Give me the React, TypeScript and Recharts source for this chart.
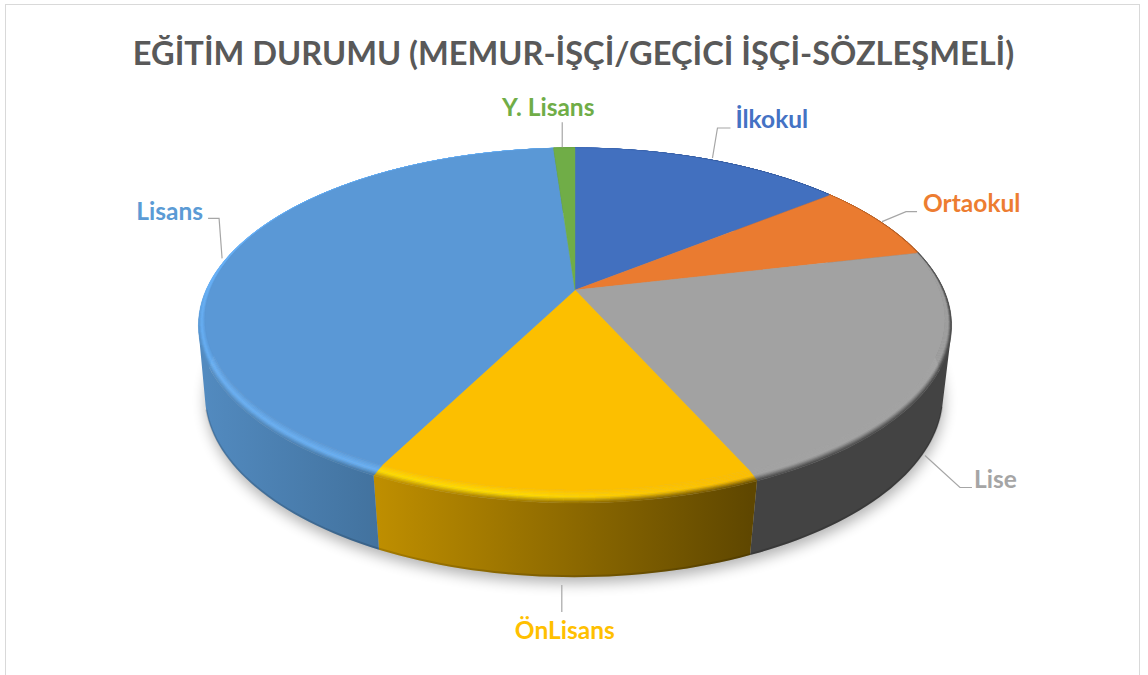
import React from 'react';
import { PieChart, Pie } from 'recharts';

/* ============================
   Data
============================ */

const CATEGORIES = ['İlkokul', 'Ortaokul', 'Lise', 'ÖnLisans', 'Lisans', 'Y. Lisans'];
const SHARES = [14.1, 7.2, 22.1, 14.0, 41.5, 1.1];

const COLORS = ['#4270BF', '#EA7B30', '#A2A2A2', '#FCBF00', '#5A98D6', '#70AD47'];
const LABEL_COLORS = ['#4472C4', '#ED7D31', '#A5A5A5', '#FFC000', '#5B9BD5', '#70AD47'];
const WALL_LEFT = ['#2F4F88', '#A35622', '#434343', '#BE8E00', '#528ABF', '#4D7731'];
const WALL_RIGHT = ['#2F4F88', '#A35622', '#434343', '#5F4700', '#42729E', '#4D7731'];
const HIGHLIGHTS = ['#4472C4', '#ED7D31', '#A5A5A5', '#FFDD00', '#69B1F6', '#70AD47'];

const TITLE = 'EĞİTİM DURUMU (MEMUR-İŞÇİ/GEÇİCİ İŞÇİ-SÖZLEŞMELİ)';
const FONT = 'Lato, sans-serif';

const chartData = CATEGORIES.map((name, i) => ({ name, value: SHARES[i], fill: COLORS[i] }));

/* ============================
   Tilted disc projection
============================ */

type Lens = { cx: number; cy: number; a: number; b: number; k: number };
type Pt = { x: number; y: number };

// flat top face, outer bevel edge, bottom of the wall
const lensFor = (cx: number, cy: number, r: number) => {
    const flat: Lens = { cx, cy, a: r, b: r * 0.4553, k: 0.17 };
    const rim: Lens = { cx, cy, a: r * 1.012, b: r * 0.4674, k: 0.2 };
    const foot: Lens = { cx: cx - 1, cy: cy + 71, a: r * 0.9945, b: r * 0.4827, k: 0.186 };
    return { flat, rim, foot };
};

const project = (l: Lens, deg: number): Pt => {
    const rad = (deg * Math.PI) / 180;
    const x = Math.cos(rad);
    const y = -Math.sin(rad);
    const w = 1 - l.k * y;
    return { x: l.cx + (l.a * x) / w, y: l.cy + (l.b * y) / w };
};

const sweep = (start: number, end: number, step = 1.5) => {
    const n = Math.max(1, Math.ceil(Math.abs(end - start) / step));
    return Array.from({ length: n + 1 }, (_, i) => start + ((end - start) * i) / n);
};

const toPath = (pts: Pt[]) =>
    pts.map((p, i) => `${i ? 'L' : 'M'}${p.x.toFixed(2)} ${p.y.toFixed(2)}`).join('') + 'Z';

// same winding for every quad, so one nonzero path fills their union
const windQuad = (pts: Pt[]) => {
    const area = pts.reduce((sum, p, i) => {
        const q = pts[(i + 1) % pts.length];
        return sum + p.x * q.y - q.x * p.y;
    }, 0);
    return area < 0 ? [...pts].reverse() : pts;
};

const hex = (c: string) => [1, 3, 5].map(i => parseInt(c.slice(i, i + 2), 16));
const mix = (c1: string, c2: string, t: number) => {
    const a = hex(c1);
    const b = hex(c2);
    const v = a.map((ch, i) => Math.round(ch + (b[i] - ch) * t));
    return '#' + v.map(n => n.toString(16).padStart(2, '0')).join('');
};
const clamp = (v: number) => Math.min(1, Math.max(0, v));
const sinOf = (deg: number) => Math.sin((deg * Math.PI) / 180);

// x range of the part of a slice's wall that faces the viewer
const frontRange = (foot: Lens, start: number, end: number) => {
    const front = sweep(start, end)
        .filter(d => sinOf(d) < -0.1)
        .map(d => project(foot, d).x);
    if (!front.length) return [0, 1];
    return [Math.min(...front), Math.max(...front)];
};

/* ============================
   Pie shapes
============================ */

const ShadowShape = (props: any) => {
    const { foot } = lensFor(props.cx, props.cy, props.outerRadius);
    const pts = sweep(0, 360, 3).map(d => project(foot, d));
    return (
        <g>
            <defs>
                <filter id="discShadow" x="-10%" y="-10%" width="120%" height="125%">
                    <feGaussianBlur stdDeviation="7" />
                </filter>
            </defs>
            <path d={toPath(pts)} fill="#000" opacity={0.3} filter="url(#discShadow)" transform="translate(1 6)" />
        </g>
    );
};

const WallShape = (props: any) => {
    const { cx, cy, outerRadius, startAngle, endAngle, index } = props;
    const { rim, foot } = lensFor(cx, cy, outerRadius);
    const angles = sweep(startAngle, endAngle);
    const [x0, x1] = frontRange(foot, startAngle, endAngle);
    const edge = angles.filter(d => sinOf(d) < -0.25).map(d => project(foot, d));
    const body = angles
        .slice(1)
        .map((d, j) =>
            toPath(windQuad([project(rim, angles[j]), project(rim, d), project(foot, d), project(foot, angles[j])]))
        )
        .join('');
    return (
        <g>
            <defs>
                <linearGradient id={`wall-${index}`} gradientUnits="userSpaceOnUse" x1={x0} x2={x1} y1={0} y2={0}>
                    <stop offset="0" stopColor={WALL_LEFT[index]} />
                    <stop offset="1" stopColor={WALL_RIGHT[index]} />
                </linearGradient>
            </defs>
            <path d={body} fill={`url(#wall-${index})`} />
            <polyline
                points={edge.map(p => `${p.x},${p.y - 1}`).join(' ')}
                fill="none"
                stroke="#000"
                strokeOpacity={0.14}
                strokeWidth={2}
            />
        </g>
    );
};

const BEVEL_STEPS = 9;
const PEAK = 0.55;

const lerpPoint = (a: Pt, b: Pt, t: number) => ({
    x: a.x + (b.x - a.x) * t,
    y: a.y + (b.y - a.y) * t,
});

const BevelShape = (props: any) => {
    const { cx, cy, outerRadius, startAngle, endAngle, index, fill } = props;
    const { flat, rim, foot } = lensFor(cx, cy, outerRadius);
    const angles = sweep(startAngle, endAngle, 2);
    const [x0, x1] = frontRange(foot, startAngle, endAngle);
    const quads: React.ReactNode[] = [];
    angles.slice(1).forEach((d, j) => {
        const prev = angles[j];
        const glow = clamp((720 - project(rim, d).x) / 220);
        const high = mix(fill, HIGHLIGHTS[index], glow);
        const wall = mix(WALL_LEFT[index], WALL_RIGHT[index], clamp((project(foot, d).x - x0) / (x1 - x0 || 1)));
        // the lit side keeps its highlight until the wall really starts
        const frontness = Math.max(clamp((0.05 - sinOf(d)) / 0.35), 1 - glow);
        const edge = mix(high, wall, frontness);
        for (let s = 0; s < BEVEL_STEPS; s++) {
            const t0 = s / BEVEL_STEPS;
            const t1 = (s + 1) / BEVEL_STEPS;
            const mid = (t0 + t1) / 2;
            const color = mid < PEAK ? mix(fill, high, mid / PEAK) : mix(high, edge, (mid - PEAK) / (1 - PEAK));
            const pts = [
                lerpPoint(project(flat, prev), project(rim, prev), t0),
                lerpPoint(project(flat, d), project(rim, d), t0),
                lerpPoint(project(flat, d), project(rim, d), t1),
                lerpPoint(project(flat, prev), project(rim, prev), t1),
            ];
            quads.push(<path key={`${j}-${s}`} d={toPath(pts)} fill={color} stroke={color} strokeWidth={0.5} />);
        }
    });
    return <g>{quads}</g>;
};

const TopShape = (props: any) => {
    const { cx, cy, outerRadius, startAngle, endAngle, fill } = props;
    const { flat } = lensFor(cx, cy, outerRadius);
    const pts = [{ x: cx, y: cy }, ...sweep(startAngle, endAngle, 1).map(d => project(flat, d))];
    return <path d={toPath(pts)} fill={fill} stroke={fill} strokeWidth={0.4} />;
};

/* ============================
   Labels
============================ */

// leader line points and text spot, relative to the slice's edge point
const LABEL_LAYOUT: Record<string, { start: number[]; bend: number[]; end: number[]; text: number[]; anchor: 'start' | 'middle' | 'end' }> = {
    'İlkokul': { start: [2, -2], bend: [7, -32], end: [20, -32], text: [25, -41], anchor: 'start' },
    'Ortaokul': { start: [3, 0], bend: [27, -10], end: [38, -10], text: [44, -19], anchor: 'start' },
    'Lise': { start: [-3, 9], bend: [32, 41], end: [44, 41], text: [46, 32], anchor: 'start' },
    'ÖnLisans': { start: [-1, 8], bend: [-1, 35], end: [-1, 35], text: [2, 52], anchor: 'middle' },
    'Lisans': { start: [-7, 0], bend: [-10, -40], end: [-21, -40], text: [-26, -48], anchor: 'end' },
    'Y. Lisans': { start: [-2, -1], bend: [-2, -26], end: [-2, -26], text: [-16, -42], anchor: 'middle' },
};

const renderLabel = (props: any) => {
    const { cx, cy, outerRadius, midAngle, name, index } = props;
    const { flat, foot } = lensFor(cx, cy, outerRadius);
    const onWall = sinOf(midAngle) < -0.2;
    const { x, y } = project(onWall ? foot : flat, midAngle);
    const { start, bend, end, text, anchor } = LABEL_LAYOUT[name];
    return (
        <g key={name}>
            <polyline
                points={`${x + start[0]},${y + start[1]} ${x + bend[0]},${y + bend[1]} ${x + end[0]},${y + end[1]}`}
                fill="none"
                stroke="#A6A6A6"
                strokeWidth={1.2}
            />
            <text
                x={x + text[0]}
                y={y + text[1]}
                textAnchor={anchor}
                dominantBaseline="central"
                fontFamily={FONT}
                fontWeight={700}
                fontSize={24.5}
                fill={LABEL_COLORS[index]}
            >
                {name}
            </text>
        </g>
    );
};

/* ============================
   Component
============================ */

const sharedPie = {
    dataKey: 'value',
    nameKey: 'name',
    cx: 575,
    cy: 290,
    outerRadius: 364.6,
    startAngle: 90,
    endAngle: -270,
    stroke: 'none',
    isAnimationActive: false,
} as const;

const App: React.FC = () => (
    <div style={{ position: 'absolute', left: 0, top: 0, width: 1148, height: 675, background: '#fff', overflow: 'hidden' }}>
        <div
            style={{
                position: 'absolute',
                left: 5,
                top: 4,
                width: 1135,
                height: 680,
                border: '1.5px solid #D9D9D9',
                boxSizing: 'border-box',
            }}
        />
        <div style={{ position: 'absolute', left: 0, top: 0 }}>
            <PieChart width={1148} height={675} margin={{ top: 0, right: 0, bottom: 0, left: 0 }}>
                <text
                    x={573.5}
                    y={52}
                    textAnchor="middle"
                    dominantBaseline="central"
                    fontFamily={FONT}
                    fontWeight={700}
                    fontSize={32.6}
                    fill="#595959"
                >
                    {TITLE}
                </text>
                <Pie {...sharedPie} data={[{ name: 'shadow', value: 1 }]} fill="#000" shape={ShadowShape} label={false} />
                <Pie {...sharedPie} data={chartData} shape={WallShape} label={false} labelLine={false} />
                <Pie {...sharedPie} data={chartData} shape={BevelShape} label={false} labelLine={false} />
                <Pie {...sharedPie} data={chartData} shape={TopShape} label={renderLabel} labelLine={false} />
            </PieChart>
        </div>
    </div>
);

export default App;
